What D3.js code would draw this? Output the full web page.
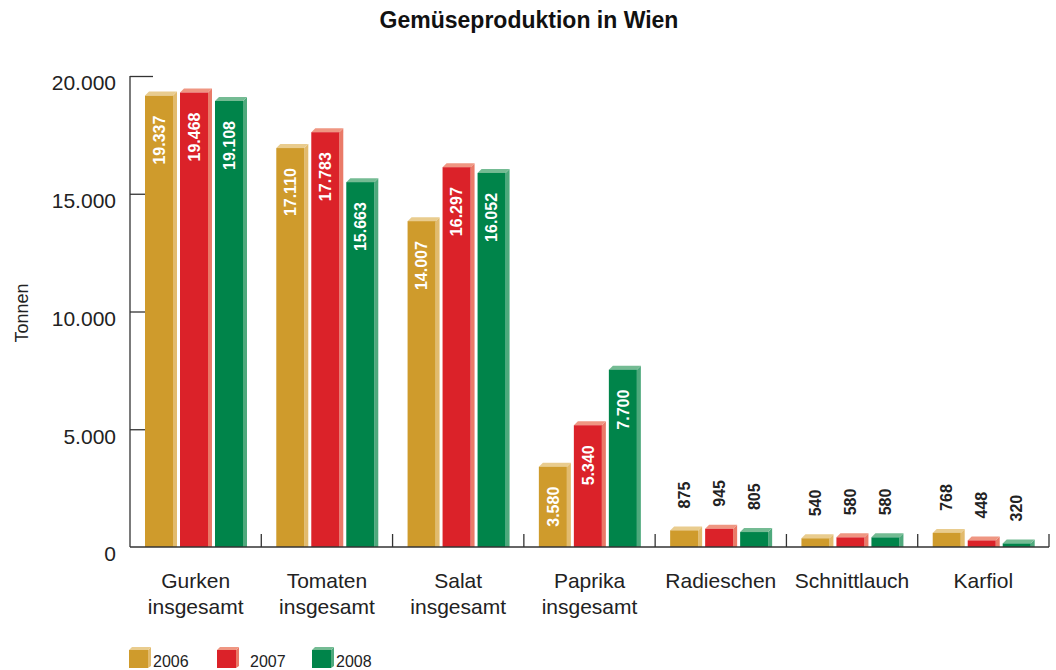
<!DOCTYPE html>
<html>
<head>
<meta charset="utf-8">
<script src="https://cdn.jsdelivr.net/npm/d3@7"></script>
<style>
  body { margin: 0; background: #fff; }
  svg { display: block; font-family: "Liberation Sans", Arial, sans-serif; }
</style>
</head>
<body>
<svg id="chart" width="1056" height="670"></svg>
<script>
// data
const categories = [
  ["Gurken", "insgesamt"],
  ["Tomaten", "insgesamt"],
  ["Salat", "insgesamt"],
  ["Paprika", "insgesamt"],
  ["Radieschen"],
  ["Schnittlauch"],
  ["Karfiol"]
];
const years = ["2006", "2007", "2008"];
const v2006 = [19337, 17110, 14007, 3580, 875, 540, 768];
const v2007 = [19468, 17783, 16297, 5340, 945, 580, 448];
const v2008 = [19108, 15663, 16052, 7700, 805, 580, 320];
const yTicks = [0, 5000, 10000, 15000, 20000];

const colors = {
  "2006": { front: "#cf9b2c", side: "#e2bb6e", cap: "#e9cc8e" },
  "2007": { front: "#db2229", side: "#ea7a68", cap: "#ef9682" },
  "2008": { front: "#00844a", side: "#4ea97c", cap: "#74bb93" }
};

const margin = { top: 76, left: 130, right: 1049, bottom: 547 };
const depth = 4;

const svg = d3.select("#chart");
const fmt = v => d3.format(",")(v).replace(/,/g, ".");

const series = years.map((yr, i) => ({ year: yr, values: [v2006, v2007, v2008][i] }));

const x = d3.scaleBand()
  .domain(d3.range(categories.length))
  .range([margin.left, margin.right])
  .paddingInner(0).paddingOuter(0);

const xInner = d3.scaleBand()
  .domain(years)
  .range([15, 113])
  .paddingInner(0.2).paddingOuter(0);

const y = d3.scaleLinear()
  .domain([0, 20000])
  .range([margin.bottom, margin.top]);

// title
svg.append("text")
  .attr("x", 529).attr("y", 28)
  .attr("text-anchor", "middle")
  .attr("font-weight", "bold")
  .attr("font-size", 23)
  .attr("fill", "#111")
  .text("Gemüseproduktion in Wien");

// y axis title
svg.append("text")
  .attr("transform", "translate(28,313) rotate(-90)")
  .attr("text-anchor", "middle")
  .attr("font-size", 18)
  .attr("fill", "#222")
  .text("Tonnen");

// y axis (ticks pointing inward)
const yAxis = svg.append("g")
  .attr("transform", `translate(${margin.left},0)`)
  .call(d3.axisRight(y).tickValues(yTicks).tickSize(15).tickFormat(""));
yAxis.select(".domain").attr("stroke", "#333").attr("stroke-width", 1.3)
  .attr("d", `M0,${margin.top}V${margin.bottom}`);
yAxis.selectAll(".tick line").attr("stroke", "#333").attr("stroke-width", 1.3)
  .attr("x2", d => d === 20000 ? 23 : (d === 0 ? 0 : 15));

svg.append("g").selectAll("text")
  .data(yTicks)
  .join("text")
  .attr("x", 116)
  .attr("y", d => y(d) + 7)
  .attr("dy", "0.35em")
  .attr("text-anchor", "end")
  .attr("font-size", 21)
  .attr("fill", "#222")
  .text(d => fmt(d));

// bars
const groups = svg.append("g").selectAll("g.cat")
  .data(categories.map((c, i) => i))
  .join("g")
  .attr("class", "cat")
  .attr("transform", i => `translate(${x(i)},0)`);

const bars = groups.selectAll("g.bar")
  .data(i => series.map(s => ({ year: s.year, value: s.values[i] })))
  .join("g")
  .attr("class", "bar");

bars.each(function(d) {
  const g = d3.select(this);
  const x0 = xInner(d.year);
  const x1 = x0 + xInner.bandwidth();
  const top = y(d.value) + depth;
  const base = margin.bottom;
  const c = colors[d.year];
  g.append("polygon")
    .attr("points", [[x1, top], [x1 + depth, top - depth], [x1 + depth, base], [x1, base]].join(" "))
    .attr("fill", c.side);
  g.append("polygon")
    .attr("points", [[x0, top], [x0 + depth, top - depth], [x1 + depth, top - depth], [x1, top]].join(" "))
    .attr("fill", c.cap);
  g.append("rect")
    .attr("x", x0).attr("y", top)
    .attr("width", x1 - x0).attr("height", Math.max(0, base - top))
    .attr("fill", c.front);

  const cx = (x0 + x1) / 2;
  const inside = d.value > 2000;
  g.append("text")
    .attr("transform", `translate(${cx},${inside ? top + 20 : top - 22}) rotate(-90)`)
    .attr("dy", "0.36em")
    .attr("text-anchor", inside ? "end" : "start")
    .attr("font-weight", "bold")
    .attr("font-size", 16)
    .attr("fill", inside ? "#fff" : "#222")
    .text(fmt(d.value));
});

// x axis: baseline and category separators
const xAxis = svg.append("g")
  .attr("transform", `translate(0,${margin.bottom})`);
xAxis.append("line")
  .attr("x1", margin.left).attr("x2", margin.right)
  .attr("stroke", "#333").attr("stroke-width", 1.3);
xAxis.selectAll("line.sep")
  .data(d3.range(1, categories.length + 1))
  .join("line")
  .attr("class", "sep")
  .attr("x1", i => margin.left + i * x.step())
  .attr("x2", i => margin.left + i * x.step())
  .attr("y1", 0).attr("y2", -13)
  .attr("stroke", "#333").attr("stroke-width", 1.3);

// category labels
svg.append("g").selectAll("text")
  .data(categories.map((c, i) => ({ lines: c, i })))
  .join("text")
  .attr("text-anchor", "middle")
  .attr("font-size", 21)
  .attr("fill", "#222")
  .each(function(d) {
    d3.select(this).selectAll("tspan")
      .data(d.lines)
      .join("tspan")
      .attr("x", x(d.i) + x.bandwidth() / 2)
      .attr("y", (l, k) => 588 + k * 26)
      .text(l => l);
  });

// legend
const legendX = [129, 217, 312];
const legendTextDx = [24, 33, 24];
const legend = svg.append("g").selectAll("g")
  .data(years)
  .join("g")
  .attr("transform", (d, i) => `translate(${legendX[i]},648)`);
legend.append("polygon")
  .attr("points", "19,2 22,-1 22,18 19,20")
  .attr("fill", d => colors[d].side);
legend.append("polygon")
  .attr("points", "0,2 3,-1 22,-1 19,2")
  .attr("fill", d => colors[d].cap);
legend.append("rect")
  .attr("x", 0).attr("y", 2).attr("width", 19).attr("height", 18)
  .attr("fill", d => colors[d].front);
legend.append("text")
  .attr("x", (d, i) => legendTextDx[i]).attr("y", 19)
  .attr("font-size", 16)
  .attr("fill", "#222")
  .text(d => d);
</script>
</body>
</html>
